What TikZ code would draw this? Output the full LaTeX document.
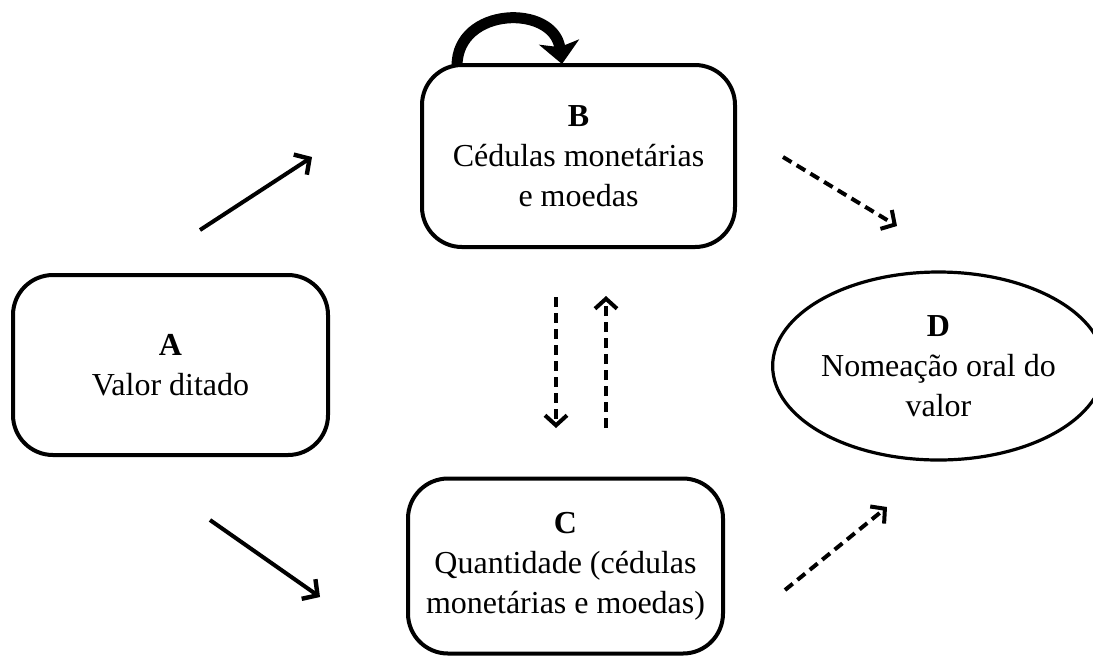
\documentclass[tikz,border=0pt]{standalone}
\usepackage{fontspec}
\setmainfont{Liberation Serif}
\usetikzlibrary{arrows.meta,shapes.geometric}
\begin{document}
\begin{tikzpicture}[x=0.5pt,y=-0.5pt,
  every node/.style={font=\fontsize{16}{20}\selectfont, align=center, inner sep=0pt},
  boxnode/.style={draw, line width=2pt, rounded corners=20pt},
  ellnode/.style={draw, ellipse, line width=1.6pt},
  solidarrow/.style={line width=2pt, -{Straight Barb[length=5.5pt,width=12pt,line width=2.2pt]}},
  dasharrow/.style={line width=2pt, dash pattern=on 5pt off 3pt, -{Straight Barb[length=5pt,width=11pt,line width=2pt]}},
  looparrow/.style={line width=5.5pt, -{Stealth[length=11pt,width=20pt,inset=2.5pt]}}
]
\useasboundingbox (0,0) rectangle (1093,655);
\node[boxnode, minimum width=157.5pt, minimum height=90pt] (A) at (170.5,365) {\textbf{A}\\Valor ditado};
\node[boxnode, minimum width=156.5pt, minimum height=91pt] (B) at (578.5,156) {\textbf{B}\\Cédulas monetárias\\e moedas};
\node[boxnode, minimum width=157.5pt, minimum height=87.5pt] (C) at (565.5,566) {\textbf{C}\\Quantidade (cédulas\\monetárias e moedas)};
\node[ellnode, minimum width=153.5pt, minimum height=94pt] (D) at (938.5,366) {\textbf{D}\\Nomeação oral do\\valor};

\coordinate (ab1) at (200,230); \coordinate (ab2) at (312,157);
\coordinate (ac1) at (210,520); \coordinate (ac2) at (320,597);
\coordinate (bd1) at (783,157); \coordinate (bd2) at (897,226);
\coordinate (cd1) at (785,590); \coordinate (cd2) at (887,507);
\coordinate (bc1) at (556,297); \coordinate (bc2) at (556,428);
\coordinate (cb1) at (606,428); \coordinate (cb2) at (606,296);
\coordinate (lp1) at (457,66); \coordinate (lp2) at (562,64);

\draw[solidarrow] (ab1) -- (ab2);
\draw[solidarrow] (ac1) -- (ac2);
\draw[dasharrow] (bd1) -- (bd2);
\draw[dasharrow] (cd1) -- (cd2);
\draw[dasharrow] (bc1) -- (bc2);
\draw[dasharrow] (cb1) -- (cb2);
\draw[looparrow] (lp1) .. controls (457,6) and (554,4) .. (lp2);
\end{tikzpicture}
\end{document}
